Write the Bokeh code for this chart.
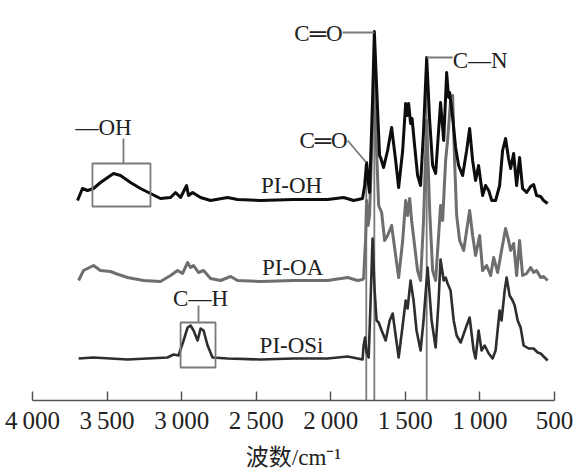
from bokeh.plotting import figure
from bokeh.models import Range1d, FixedTicker
from bokeh.core.properties import value
from bokeh.embed import file_html
from bokeh.resources import INLINE

# ---------------- data (wavenumber cm^-1, offset intensity a.u.) ----------------
oh_w = [3698, 3665, 3631, 3591, 3544, 3457, 3410, 3343, 3276, 3209, 3142, 3074, 3041, 3007,
        2967, 2954, 2927, 2873, 2806, 2692, 2625, 2471, 2249, 2021, 1914, 1847, 1787,
        1773, 1760, 1746, 1740, 1720, 1708, 1686, 1673, 1666, 1646, 1619, 1592, 1565, 1545,
        1518, 1498, 1488, 1478, 1465, 1455, 1438, 1418, 1398, 1378, 1357, 1337, 1317, 1297,
        1277, 1264, 1243, 1223, 1210, 1203, 1183, 1163, 1143, 1116, 1089, 1069, 1049, 1029,
        1009, 982, 962, 941, 921, 895, 868, 848, 828, 808, 794, 774, 754, 734, 714, 687,
        660, 640, 620, 593, 573, 546]
oh_a = [200, 212, 210, 212, 218, 227, 225, 218, 212, 207, 202, 203, 208, 203,
        215, 205, 208, 203, 200, 203, 201, 200, 201, 201, 203, 200, 202,
        215, 238, 215, 208, 300, 369, 290, 245, 243, 233, 250, 273, 240, 213,
        250, 297, 285, 297, 277, 282, 255, 225, 215, 270, 343, 280, 235, 227,
        270, 298, 260, 328, 303, 308, 283, 253, 235, 225, 250, 272, 240, 220,
        235, 205, 215, 210, 200, 200, 215, 250, 262, 242, 232, 247, 215, 243, 212, 208,
        214, 216, 205, 204, 200, 197]

oa_w = [3691, 3658, 3591, 3544, 3477, 3443, 3363, 3256, 3142, 3074, 3027, 2994, 2960, 2940,
        2920, 2887, 2853, 2806, 2739, 2672, 2625, 2471, 2249, 2021, 1887, 1820, 1787,
        1780, 1767, 1760, 1750, 1740, 1726, 1710, 1693, 1679, 1659, 1639, 1619, 1592, 1565,
        1545, 1518, 1498, 1485, 1471, 1458, 1438, 1418, 1398, 1378, 1357, 1337, 1317, 1297,
        1277, 1264, 1250, 1230, 1217, 1197, 1183, 1170, 1156, 1136, 1109, 1089, 1069, 1049,
        1029, 1002, 982, 955, 928, 908, 881, 855, 828, 808, 794, 774, 754, 734, 714, 687,
        660, 640, 620, 593, 573, 546]
oa_a = [120, 130, 135, 130, 129, 127, 123, 120, 119, 125, 130, 127, 138, 133,
        135, 128, 130, 122, 120, 124, 120, 119, 120, 120, 123, 120, 121,
        122, 160, 200, 175, 185, 250, 325, 250, 195, 188, 160, 165, 175, 145,
        123, 160, 200, 185, 202, 180, 155, 130, 120, 180, 280, 190, 130, 120,
        165, 195, 180, 240, 260, 300, 305, 240, 185, 160, 150, 170, 190, 165,
        145, 165, 130, 135, 125, 143, 128, 150, 172, 160, 150, 157, 125, 160, 125, 127,
        133, 128, 130, 123, 124, 120]

osi_w = [3691, 3591, 3477, 3363, 3229, 3095, 3054, 3021, 2987, 2960, 2940, 2920, 2893, 2873,
         2853, 2826, 2793, 2692, 2471, 2249, 2021, 1887, 1820, 1787,
         1780, 1770, 1760, 1746, 1733, 1720, 1706, 1693, 1679, 1659, 1632, 1605, 1585, 1565,
         1545, 1518, 1498, 1485, 1465, 1445, 1425, 1398, 1378, 1351, 1324, 1297, 1277, 1264,
         1243, 1230, 1217, 1197, 1176, 1156, 1129, 1089, 1069, 1042, 1029, 1009, 989, 968,
         941, 915, 895, 868, 855, 834, 821, 801, 781, 767, 747, 727, 707, 673, 640, 613,
         593, 566, 546]
osi_a = [42, 43, 42, 41, 42, 43, 46, 45, 60, 73, 75, 70, 60, 72,
         70, 55, 43, 42, 41, 42, 42, 44, 42, 41,
         55, 63, 48, 43, 100, 162, 110, 80, 78, 70, 60, 80, 87, 65,
         43, 75, 100, 92, 120, 100, 70, 50, 80, 133, 80, 53, 100, 141,
         120, 123, 117, 110, 80, 65, 58, 75, 83, 50, 42, 70, 50, 55,
         47, 42, 50, 90, 80, 110, 123, 105, 100, 95, 80, 73, 55, 52, 52, 48,
         47, 43, 40]

ticks = [4000, 3500, 3000, 2500, 2000, 1500, 1000, 500]
tick_labels = ["4\u2009000", "3\u2009500", "3\u2009000", "2\u2009500",
               "2\u2009000", "1\u2009500", "1\u2009000", "500"]

series_names = ["PI-OH", "PI-OA", "PI-OSi"]

# annotation band positions (cm^-1)
band_co_high = 1762
band_co_main = 1708
band_cn = 1357

SERIF = "Liberation Serif"
GRID = "#7a7a7a"

p = figure(frame_width=522, frame_height=385, output_backend="svg", toolbar_location=None,
           x_range=Range1d(4000, 500), y_range=Range1d(0, 385),
           y_axis_location=None, min_border_left=32, min_border_right=20,
           min_border_top=15, min_border_bottom=70)
p.grid.visible = False
p.outline_line_color = None
p.background_fill_color = "white"

ax = p.xaxis[0]
ax.ticker = FixedTicker(ticks=ticks)
ax.major_label_overrides = {t: l for t, l in zip(ticks, tick_labels)}
ax.minor_tick_line_color = None
ax.major_tick_in = 9
ax.major_tick_out = 0
ax.axis_line_color = "#555555"
ax.major_tick_line_color = "#555555"
ax.axis_line_width = 1.5
ax.major_tick_line_width = 1.5
ax.major_label_text_font = SERIF
ax.major_label_text_font_size = "25px"
ax.major_label_text_color = "#222222"
ax.major_label_standoff = 6
ax.axis_label = "波数/cm\u207b\u00b9"
ax.axis_label_text_font = "Liberation Serif, Noto Sans CJK SC"
ax.axis_label_text_font_style = "normal"
ax.axis_label_text_font_size = "23px"
ax.axis_label_text_color = "#222222"
ax.axis_label_standoff = 8

# annotation lines (behind spectra)
p.line([band_co_main, band_co_main], [0, 368], line_color=GRID, line_width=1.8)
p.line([band_co_high, band_co_high], [0, 238], line_color=GRID, line_width=1.8)
p.line([band_cn, band_cn], [0, 343], line_color=GRID, line_width=1.8)

# spectra
p.line(osi_w, osi_a, line_color="#2e2e2e", line_width=2.6, line_join="round")
p.line(oa_w, oa_a, line_color="#6e6e6e", line_width=3, line_join="round")
p.line(oh_w, oh_a, line_color="#0d0d0d", line_width=3, line_join="round")

# leader lines
p.line([1921, band_co_main], [368, 368], line_color=GRID, line_width=1.8)
p.line([1887, band_co_high], [260, 238], line_color=GRID, line_width=1.8)
p.line([band_cn, 1183], [343, 343], line_color=GRID, line_width=1.8)
p.line([3390, 3390], [237, 262], line_color=GRID, line_width=1.8)
p.line([2887, 2887], [78, 95], line_color=GRID, line_width=1.8)

# boxes
p.quad(left=[3598, 3007], right=[3209, 2773], bottom=[194, 33], top=[237, 78],
       fill_color=None, line_color=GRID, line_width=1.8)

# texts
def label(x, y, t, align="center"):
    p.text(x=[x], y=[y], text=[t], text_font=value(SERIF), text_font_size="23px",
           text_align=align, text_baseline="middle", text_color="#222222")

label(3712, 273, "\u2014OH", "left")
label(1921, 367, "C\u2550O", "right")
label(1887, 260, "C\u2550O", "right")
label(1183, 340, "C\u2014N", "left")
label(2873, 102, "C\u2014H")
label(2263, 215, series_names[0])
label(2256, 133, series_names[1])
label(2263, 55, series_names[2])

open("out.html", "w").write(file_html(p, INLINE))
